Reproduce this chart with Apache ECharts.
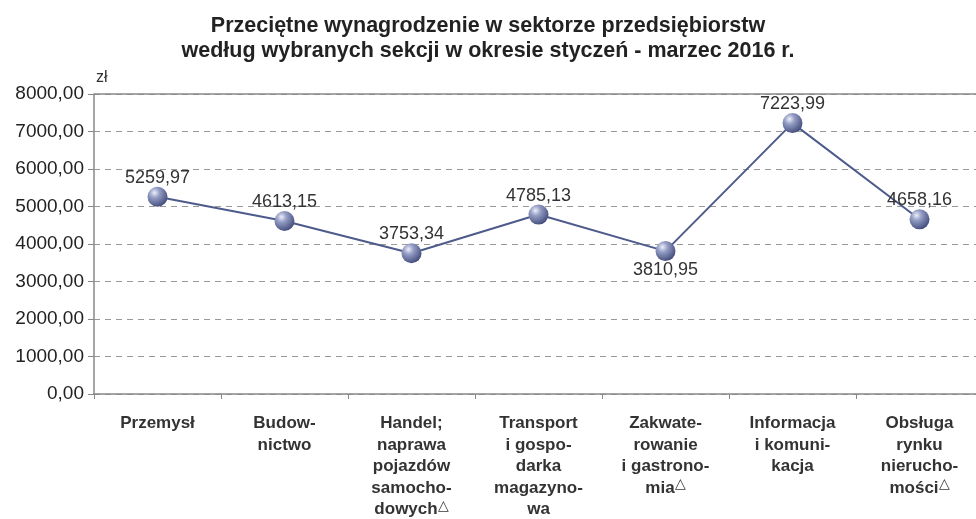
<!DOCTYPE html>
<html>
<head>
<meta charset="utf-8">
<script src="https://cdn.jsdelivr.net/npm/echarts@6/dist/echarts.min.js"></script>
<style>
  html, body { margin: 0; padding: 0; background: #fff; }
  #chart { width: 976px; height: 519px; }
</style>
</head>
<body>
<div id="chart"></div>
<script>
// sekcje (kategorie) i przecietne wynagrodzenie w zl
const categories = [
  'Przemysł',
  'Budow-\nnictwo',
  'Handel;\nnaprawa\npojazdów\nsamocho-\ndowych{t|△}',
  'Transport\ni gospo-\ndarka\nmagazyno-\nwa',
  'Zakwate-\nrowanie\ni gastrono-\nmia{t|△}',
  'Informacja\ni komuni-\nkacja',
  'Obsługa\nrynku\nnierucho-\nmości{t|△}'
];
const wages = [5259.97, 4613.15, 3753.34, 4785.13, 3810.95, 7223.99, 4658.16];
const labelBelow = [false, false, false, false, true, false, false];
const yTicks = { min: 0, max: 8000, interval: 1000 };

const fmt = (v) => v.toFixed(2).replace('.', ',');

const chart = echarts.init(document.getElementById('chart'));

const sphere = new echarts.graphic.RadialGradient(0.35, 0.3, 0.75, [
  { offset: 0, color: '#eceff8' },
  { offset: 0.35, color: '#939cc4' },
  { offset: 1, color: '#414a78' }
]);

chart.setOption({
  animation: false,
  title: {
    text: 'Przeciętne wynagrodzenie w sektorze przedsiębiorstw\nwedług wybranych sekcji w okresie styczeń - marzec 2016 r.',
    left: 'center',
    top: 8,
    textStyle: {
      fontFamily: 'Liberation Sans',
      fontSize: 21.5,
      fontWeight: 'bold',
      color: '#222',
      lineHeight: 25.5
    }
  },
  grid: { left: 94, right: -7, top: 94, bottom: 125, outerBoundsMode: 'none' },
  xAxis: {
    type: 'category',
    data: categories,
    axisLine: { lineStyle: { color: '#888', width: 1.5 } },
    axisTick: { show: true, length: 5, lineStyle: { color: '#888' } },
    axisLabel: {
      interval: 0,
      margin: 19,
      fontFamily: 'Liberation Sans',
      fontSize: 17,
      fontWeight: 'bold',
      color: '#333',
      lineHeight: 21.5,
      align: 'center',
      rich: {
        t: { fontSize: 14, fontWeight: 'normal', color: '#333', verticalAlign: 'top', padding: [0, 0, 10, 0] }
      }
    }
  },
  yAxis: {
    type: 'value',
    min: yTicks.min,
    max: yTicks.max,
    interval: yTicks.interval,
    name: 'zł',
    nameGap: 8,
    nameTextStyle: { fontFamily: 'Liberation Sans', fontSize: 16, color: '#333', align: 'left', padding: [0, 0, 0, 2] },
    axisLine: { show: true, lineStyle: { color: '#888', width: 1.5 } },
    axisTick: { show: true, length: 6, lineStyle: { color: '#888' } },
    axisLabel: {
      formatter: fmt,
      margin: 10,
      fontFamily: 'Liberation Sans',
      fontSize: 19,
      color: '#222'
    },
    splitLine: { lineStyle: { color: '#999', type: [6, 5], width: 1 } }
  },
  series: [{
    type: 'line',
    data: wages.map((v, i) => ({
      value: v,
      label: { position: labelBelow[i] ? 'bottom' : 'top' }
    })),
    symbol: 'circle',
    symbolSize: 20,
    itemStyle: { color: sphere, borderWidth: 0 },
    lineStyle: { color: '#4d5b8c', width: 2 },
    label: {
      show: true,
      distance: 0,
      formatter: (p) => fmt(p.value),
      fontFamily: 'Liberation Sans',
      fontSize: 18,
      color: '#333'
    },
    markLine: {
      silent: true,
      symbol: 'none',
      label: { show: false },
      lineStyle: { color: '#888', type: 'solid', width: 1.5 },
      data: [{ yAxis: yTicks.max }]
    }
  }]
});
</script>
</body>
</html>
